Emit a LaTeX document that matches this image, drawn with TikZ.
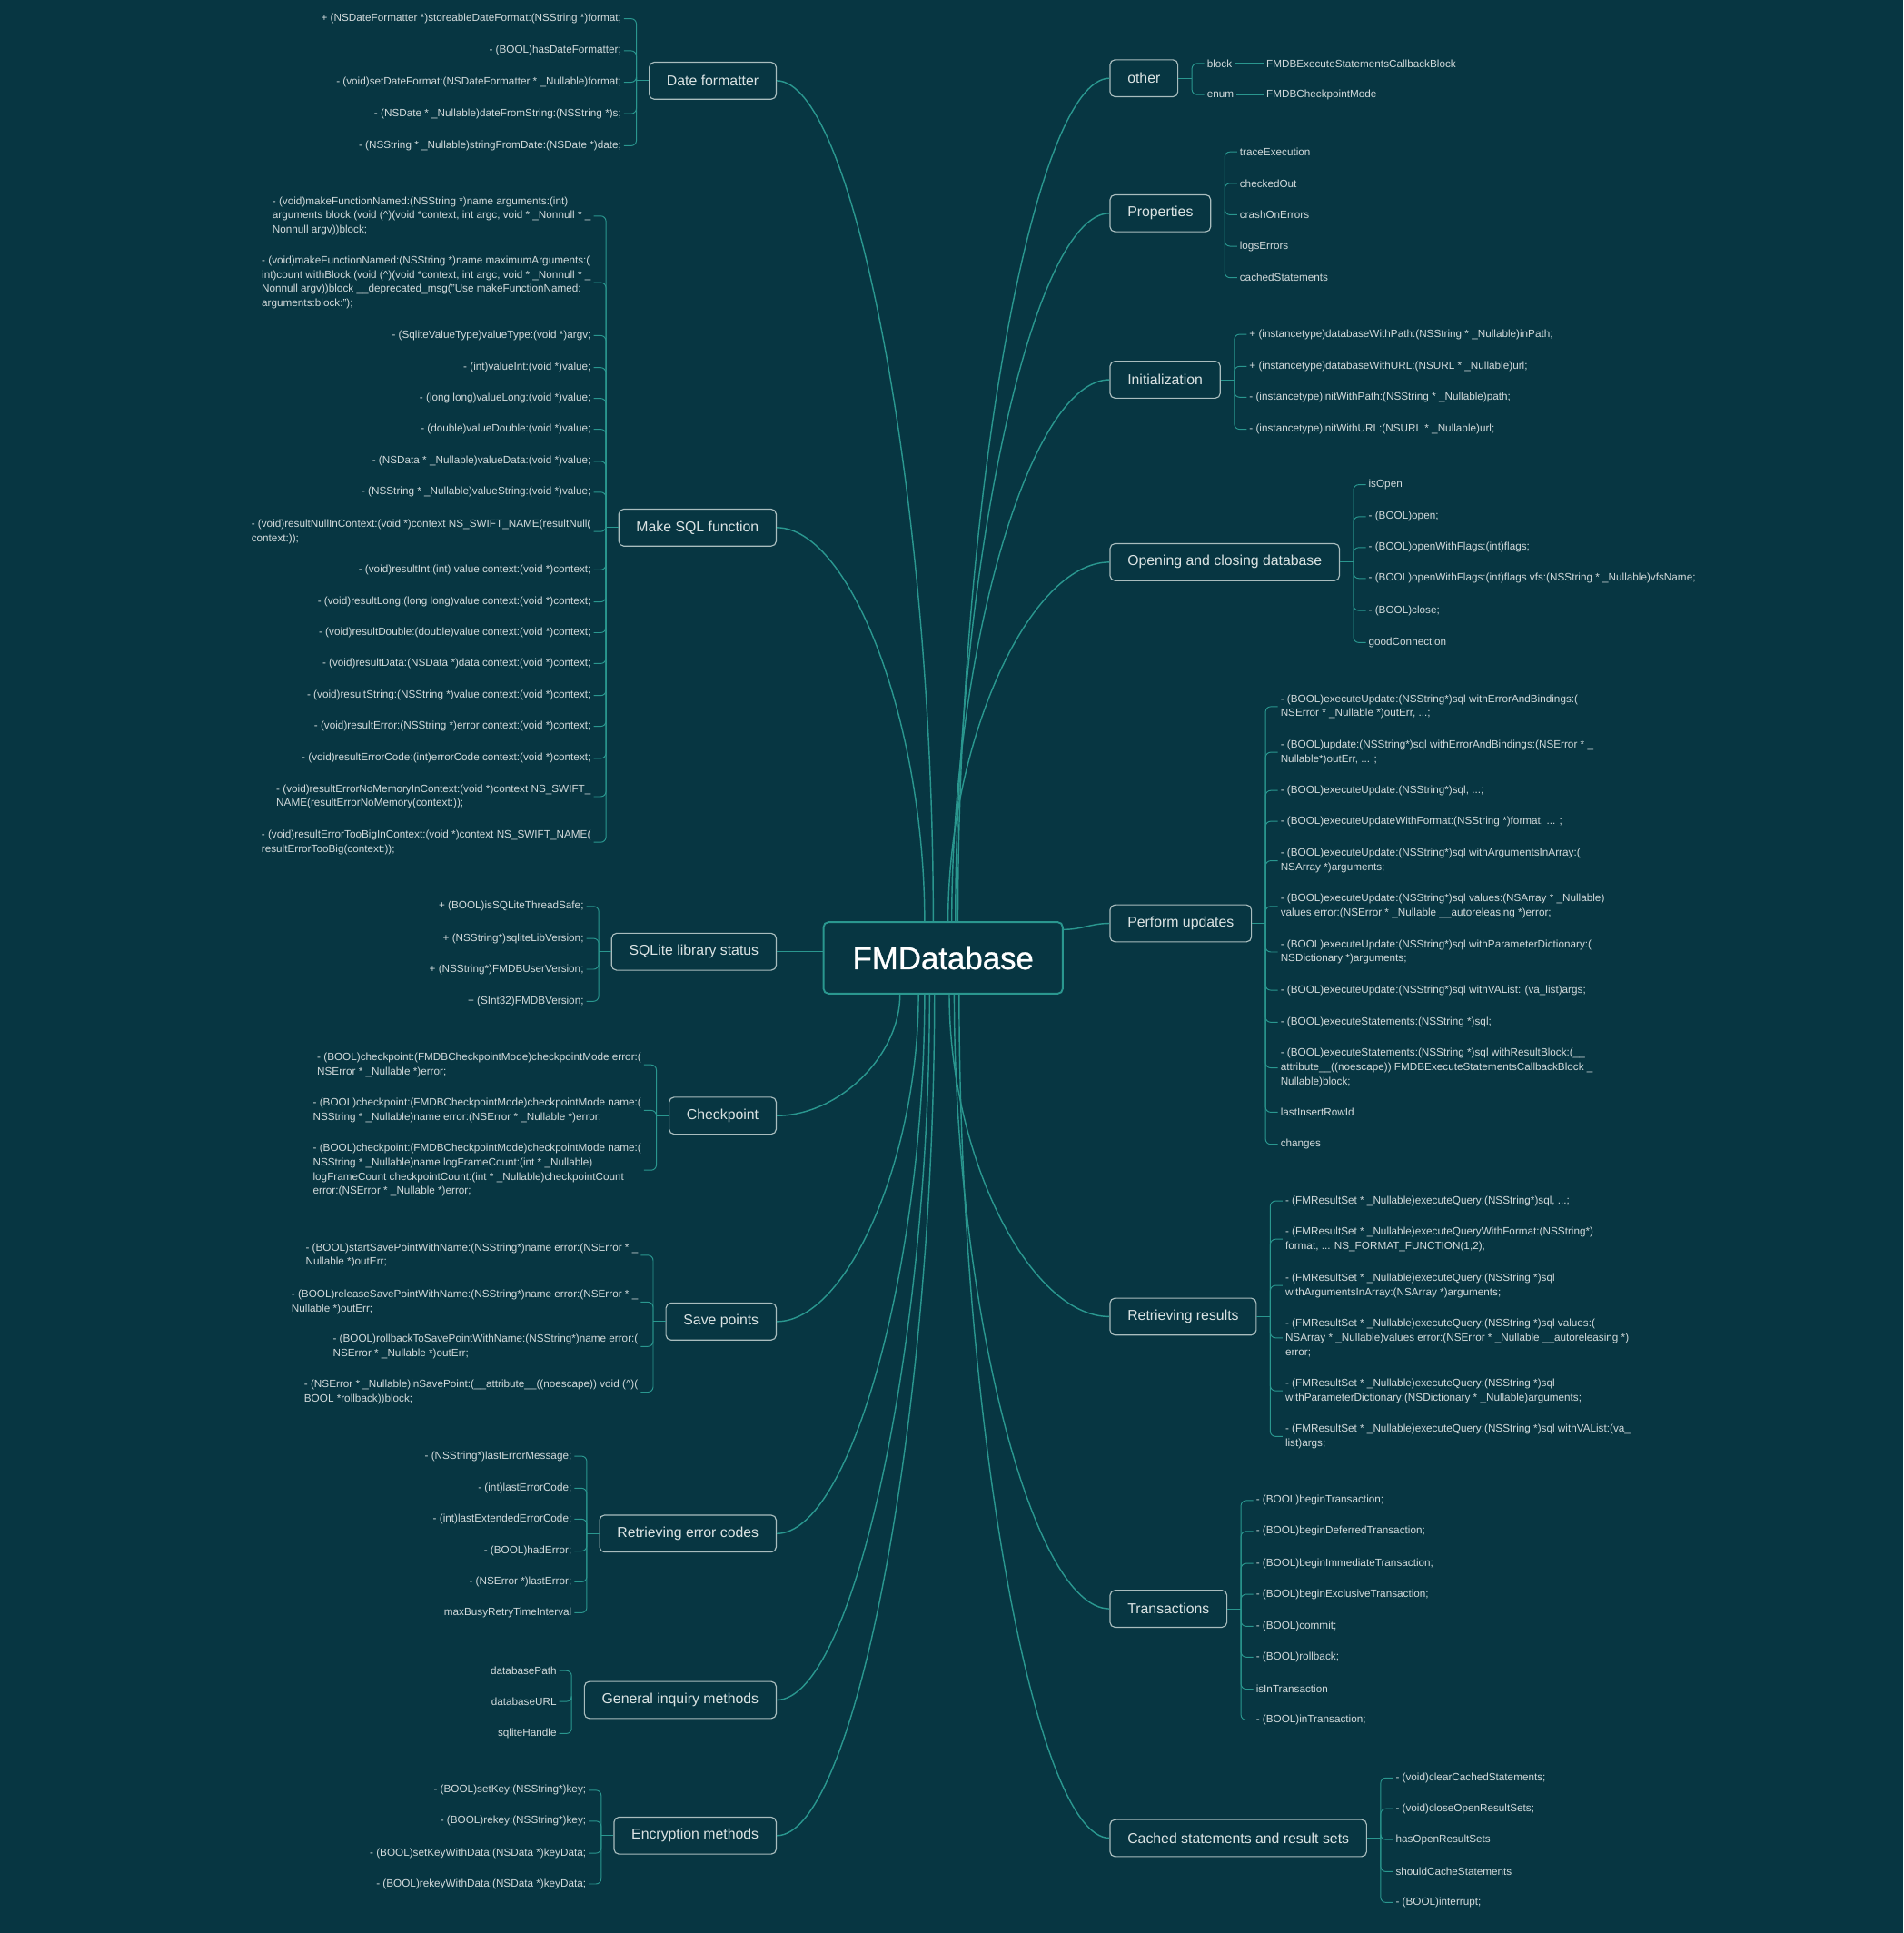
\documentclass[tikz,border=0pt]{standalone}
\usepackage{fontspec}
\setmainfont{Liberation Sans}
\newfontfamily\titlefont{Liberation Sans}[FakeBold=0.8]
\usetikzlibrary{calc}

\definecolor{bgteal}{HTML}{073642}
\definecolor{lineteal}{HTML}{2A978F}
\definecolor{boxgray}{HTML}{A9BDBE}
\definecolor{boxtext}{HTML}{DCE4E4}
\definecolor{leaftext}{HTML}{D2DADB}

\tikzset{
  limb/.style={draw=lineteal, line width=1.5pt},
  twig/.style={draw=lineteal, line width=1pt, rounded corners=6pt},
  root/.style={draw=lineteal, line width=2pt, rounded corners=2mm, fill=bgteal,
    text=white, font=\titlefont\fontsize{36.5}{40}\selectfont, minimum width=97mm, minimum height=29mm},
  topic/.style={draw=boxgray, line width=1.2pt, rounded corners=2mm, fill=bgteal,
    text=boxtext, font=\fontsize{16.6}{20}\selectfont, minimum height=15mm, inner xsep=7.1mm},
  leaf/.style={text=leaftext, font=\fontsize{12.3}{16.5}\selectfont, align=left,
    inner xsep=3pt, inner ysep=1pt, yshift=-0.6mm}
}

% leaves left of a topic box: #1 topic name, #2 list y/text
\newcommand{\leftleaves}[2]{%
  \draw[twig] (#1.west) -- ++(-10,0) coordinate (#1-s);
  \foreach \y/\txt [count=\i] in {#2}{
    \node[leaf, anchor=east] (#1-\i) at ($(#1-s |- 0,\y)+(-10,0)$) {\txt};
    \draw[twig] (#1-s) |- (#1-\i.east);
  }}
% leaves right of a topic box
\newcommand{\rightleaves}[2]{%
  \draw[twig] (#1.east) -- ++(11,0) coordinate (#1-s);
  \foreach \y/\txt [count=\i] in {#2}{
    \node[leaf, anchor=west] (#1-\i) at ($(#1-s |- 0,\y)+(10,0)$) {\txt};
    \draw[twig] (#1-s) |- (#1-\i.west);
  }}

\begin{document}
\begin{tikzpicture}[x=0.5mm, y=-0.5mm]
  \useasboundingbox (0,0) rectangle (1544,1568);
  \fill[bgteal] (0,0) rectangle (1544,1568);

  % centre
  \node[root] (root) at (765,777) {FMDatabase};

  % topics on the left
  \node[topic, anchor=east] (df) at (630,65.5) {Date formatter};
  \node[topic, anchor=east] (sql) at (630,428) {Make SQL function};
  \node[topic, anchor=east] (lib) at (630,772) {SQLite library status};
  \node[topic, anchor=east] (cp) at (630,905) {Checkpoint};
  \node[topic, anchor=east] (sp) at (630,1072) {Save points};
  \node[topic, anchor=east] (err) at (630,1244) {Retrieving error codes};
  \node[topic, anchor=east] (inq) at (630,1379) {General inquiry methods};
  \node[topic, anchor=east] (enc) at (630,1489) {Encryption methods};

  % topics on the right
  \node[topic, anchor=west] (oth) at (900,63.5) {other};
  \node[topic, anchor=west] (prop) at (900,173) {Properties};
  \node[topic, anchor=west] (init) at (900,308) {Initialization};
  \node[topic, anchor=west] (open) at (900,456) {Opening and closing database};
  \node[topic, anchor=west] (upd) at (900,749) {Perform updates};
  \node[topic, anchor=west] (res) at (900,1068) {Retrieving results};
  \node[topic, anchor=west] (tr) at (900,1305) {Transactions};
  \node[topic, anchor=west] (cache) at (900,1491) {Cached statements and result sets};

  % limbs
  \draw[limb] (df.east) .. controls +(63,0) and +(0,-341) .. ([xshift=-4mm]root.north);
  \draw[limb] (sql.east) .. controls +(60,0) and +(0,-160) .. ([xshift=-7.5mm]root.north);
  \draw[limb] (lib.east) -- (lib.east -| root.west);
  \draw[limb] (cp.east) .. controls +(50,0) and +(0,50) .. ([xshift=-17.5mm]root.south);
  \draw[limb] (sp.east) .. controls +(57,0) and +(0,133) .. ([xshift=-10mm]root.south);
  \draw[limb] (err.east) .. controls +(60,0) and +(0,219) .. ([xshift=-7.5mm]root.south);
  \draw[limb] (inq.east) .. controls +(62,0) and +(0,286) .. ([xshift=-5.5mm]root.south);
  \draw[limb] (enc.east) .. controls +(64,0) and +(0,341) .. ([xshift=-3.5mm]root.south);
  \draw[limb] (oth.west) .. controls +(-61,0) and +(0,-342) .. ([xshift=6mm]root.north);
  \draw[limb] (prop.west) .. controls +(-62,0) and +(0,-287) .. ([xshift=5mm]root.north);
  \draw[limb] (init.west) .. controls +(-64,0) and +(0,-220) .. ([xshift=3.5mm]root.north);
  \draw[limb] (open.west) .. controls +(-65,0) and +(0,-146) .. ([xshift=2mm]root.north);
  \draw[limb] ([yshift=11.5mm]root.east) .. controls +(15,0) and +(-15,0) .. (upd.west);
  \draw[limb] (res.west) .. controls +(-65,0) and +(0,131) .. ([xshift=2.5mm]root.south);
  \draw[limb] (tr.west) .. controls +(-63,0) and +(0,250) .. ([xshift=4.5mm]root.south);
  \draw[limb] (cache.west) .. controls +(-61,0) and +(0,342) .. ([xshift=6.5mm]root.south);

  % leaves
  \leftleaves{df}{
    14/{+ (NSDateFormatter *)storeableDateFormat:(NSString *)format;},
    40/{- (BOOL)hasDateFormatter;},
    65.5/{- (void)setDateFormat:(NSDateFormatter * \_Nullable)format;},
    91/{- (NSDate * \_Nullable)dateFromString:(NSString *)s;},
    117/{- (NSString * \_Nullable)stringFromDate:(NSDate *)date;}}

  \leftleaves{sql}{
    174/{- (void)makeFunctionNamed:(NSString *)name arguments:(int)\\arguments block:(void (\textasciicircum)(void *context, int argc, void * \_Nonnull * \_\\Nonnull argv))block;},
    228/{- (void)makeFunctionNamed:(NSString *)name maximumArguments:(\\int)count withBlock:(void (\textasciicircum)(void *context, int argc, void * \_Nonnull * \_\\Nonnull argv))block \_\_deprecated\_msg("Use makeFunctionNamed:\\arguments:block:");},
    271/{- (SqliteValueType)valueType:(void *)argv;},
    297/{- (int)valueInt:(void *)value;},
    322/{- (long long)valueLong:(void *)value;},
    347/{- (double)valueDouble:(void *)value;},
    373/{- (NSData * \_Nullable)valueData:(void *)value;},
    398/{- (NSString * \_Nullable)valueString:(void *)value;},
    430/{- (void)resultNullInContext:(void *)context NS\_SWIFT\_NAME(resultNull(\\context:));},
    461/{- (void)resultInt:(int) value context:(void *)context;},
    487/{- (void)resultLong:(long long)value context:(void *)context;},
    512/{- (void)resultDouble:(double)value context:(void *)context;},
    537/{- (void)resultData:(NSData *)data context:(void *)context;},
    563/{- (void)resultString:(NSString *)value context:(void *)context;},
    588/{- (void)resultError:(NSString *)error context:(void *)context;},
    614/{- (void)resultErrorCode:(int)errorCode context:(void *)context;},
    645/{- (void)resultErrorNoMemoryInContext:(void *)context NS\_SWIFT\_\\NAME(resultErrorNoMemory(context:));},
    682/{- (void)resultErrorTooBigInContext:(void *)context NS\_SWIFT\_NAME(\\resultErrorTooBig(context:));}}

  \leftleaves{lib}{
    734/{+ (BOOL)isSQLiteThreadSafe;},
    760/{+ (NSString*)sqliteLibVersion;},
    785/{+ (NSString*)FMDBUserVersion;},
    811/{+ (SInt32)FMDBVersion;}}

  \leftleaves{cp}{
    862.5/{- (BOOL)checkpoint:(FMDBCheckpointMode)checkpointMode error:(\\NSError * \_Nullable *)error;},
    899.5/{- (BOOL)checkpoint:(FMDBCheckpointMode)checkpointMode name:(\\NSString * \_Nullable)name error:(NSError * \_Nullable *)error;},
    948/{- (BOOL)checkpoint:(FMDBCheckpointMode)checkpointMode name:(\\NSString * \_Nullable)name logFrameCount:(int * \_Nullable)\\logFrameCount checkpointCount:(int * \_Nullable)checkpointCount\\error:(NSError * \_Nullable *)error;}}

  \leftleaves{sp}{
    1017/{- (BOOL)startSavePointWithName:(NSString*)name error:(NSError * \_\\Nullable *)outErr;},
    1055/{- (BOOL)releaseSavePointWithName:(NSString*)name error:(NSError * \_\\Nullable *)outErr;},
    1091/{- (BOOL)rollbackToSavePointWithName:(NSString*)name error:(\\NSError * \_Nullable *)outErr;},
    1128/{- (NSError * \_Nullable)inSavePoint:(\_\_attribute\_\_((noescape)) void (\textasciicircum)(\\BOOL *rollback))block;}}

  \leftleaves{err}{
    1180/{- (NSString*)lastErrorMessage;},
    1206/{- (int)lastErrorCode;},
    1231/{- (int)lastExtendedErrorCode;},
    1257/{- (BOOL)hadError;},
    1282/{- (NSError *)lastError;},
    1307/{maxBusyRetryTimeInterval}}

  \leftleaves{inq}{
    1354/{databasePath},
    1379/{databaseURL},
    1405/{sqliteHandle}}

  \leftleaves{enc}{
    1451/{- (BOOL)setKey:(NSString*)key;},
    1476/{- (BOOL)rekey:(NSString*)key;},
    1502/{- (BOOL)setKeyWithData:(NSData *)keyData;},
    1527/{- (BOOL)rekeyWithData:(NSData *)keyData;}}

  \rightleaves{oth}{
    50.3/{block},
    75.6/{enum}}
  \node[leaf, anchor=west] (blk) at (1025,50.3) {FMDBExecuteStatementsCallbackBlock};
  \node[leaf, anchor=west] (ckm) at (1025,75.6) {FMDBCheckpointMode};
  \draw[twig] (oth-1.east) -- (blk.west);
  \draw[twig] (oth-2.east) -- (ckm.west);

  \rightleaves{prop}{
    122/{traceExecution},
    147.5/{checkedOut},
    173/{crashOnErrors},
    198.5/{logsErrors},
    224/{cachedStatements}}

  \rightleaves{init}{
    270/{+ (instancetype)databaseWithPath:(NSString * \_Nullable)inPath;},
    296/{+ (instancetype)databaseWithURL:(NSURL * \_Nullable)url;},
    321/{- (instancetype)initWithPath:(NSString * \_Nullable)path;},
    347/{- (instancetype)initWithURL:(NSURL * \_Nullable)url;}}

  \rightleaves{open}{
    392/{isOpen},
    418/{- (BOOL)open;},
    443/{- (BOOL)openWithFlags:(int)flags;},
    468/{- (BOOL)openWithFlags:(int)flags vfs:(NSString * \_Nullable)vfsName;},
    494/{- (BOOL)close;},
    520/{goodConnection}}

  \rightleaves{upd}{
    572/{- (BOOL)executeUpdate:(NSString*)sql withErrorAndBindings:(\\NSError * \_Nullable *)outErr, ...;},
    609/{- (BOOL)update:(NSString*)sql withErrorAndBindings:(NSError * \_\\Nullable*)outErr, ... ;},
    640/{- (BOOL)executeUpdate:(NSString*)sql, ...;},
    665/{- (BOOL)executeUpdateWithFormat:(NSString *)format, ... ;},
    697/{- (BOOL)executeUpdate:(NSString*)sql withArgumentsInArray:(\\NSArray *)arguments;},
    734/{- (BOOL)executeUpdate:(NSString*)sql values:(NSArray * \_Nullable)\\values error:(NSError * \_Nullable \_\_autoreleasing *)error;},
    771/{- (BOOL)executeUpdate:(NSString*)sql withParameterDictionary:(\\NSDictionary *)arguments;},
    802/{- (BOOL)executeUpdate:(NSString*)sql withVAList: (va\_list)args;},
    828/{- (BOOL)executeStatements:(NSString *)sql;},
    865/{- (BOOL)executeStatements:(NSString *)sql withResultBlock:(\_\_\\attribute\_\_((noescape)) FMDBExecuteStatementsCallbackBlock \_\\Nullable)block;},
    901/{lastInsertRowId},
    927/{changes}}

  \rightleaves{res}{
    973/{- (FMResultSet * \_Nullable)executeQuery:(NSString*)sql, ...;},
    1004/{- (FMResultSet * \_Nullable)executeQueryWithFormat:(NSString*)\\format, ... NS\_FORMAT\_FUNCTION(1,2);},
    1041.5/{- (FMResultSet * \_Nullable)executeQuery:(NSString *)sql\\withArgumentsInArray:(NSArray *)arguments;},
    1084/{- (FMResultSet * \_Nullable)executeQuery:(NSString *)sql values:(\\NSArray * \_Nullable)values error:(NSError * \_Nullable \_\_autoreleasing *)\\error;},
    1127/{- (FMResultSet * \_Nullable)executeQuery:(NSString *)sql\\withParameterDictionary:(NSDictionary * \_Nullable)arguments;},
    1164/{- (FMResultSet * \_Nullable)executeQuery:(NSString *)sql withVAList:(va\_\\list)args;}}

  \rightleaves{tr}{
    1216/{- (BOOL)beginTransaction;},
    1241/{- (BOOL)beginDeferredTransaction;},
    1267/{- (BOOL)beginImmediateTransaction;},
    1292/{- (BOOL)beginExclusiveTransaction;},
    1318/{- (BOOL)commit;},
    1343/{- (BOOL)rollback;},
    1369/{isInTransaction},
    1394/{- (BOOL)inTransaction;}}

  \rightleaves{cache}{
    1441/{- (void)clearCachedStatements;},
    1466/{- (void)closeOpenResultSets;},
    1491/{hasOpenResultSets},
    1517/{shouldCacheStatements},
    1542/{- (BOOL)interrupt;}}
\end{tikzpicture}
\end{document}
